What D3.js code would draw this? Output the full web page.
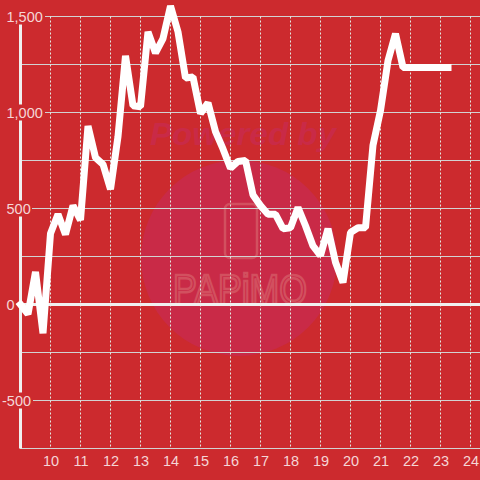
<!DOCTYPE html>
<html>
<head>
<meta charset="utf-8">
<script src="https://cdn.jsdelivr.net/npm/d3@7"></script>
<style>
  html, body { margin: 0; padding: 0; background: #cc2a2e; }
  svg { display: block; }
  text { font-family: "Liberation Sans", Arial, sans-serif; }
</style>
</head>
<body>
<div id="chart"></div>
<script>
// Quarterly readings, first point sits on the y axis
var startTick = 9;
var stepTick = 0.25;
var seriesValues = [0, -50, 170, -150, 370, 470, 365, 515, 440, 930, 765, 730, 600, 875, 1295, 1035, 1030,
  1420, 1310, 1385, 1555, 1420, 1180, 1185, 995, 1050, 900, 810, 710, 745, 750, 570, 515, 470, 470, 395,
  400, 505, 410, 305, 255, 395, 220, 115, 375, 400, 400, 830, 1010, 1270, 1410, 1235, 1235, 1235, 1235,
  1235, 1235, 1235];
var xTicks = [10, 11, 12, 13, 14, 15, 16, 17, 18, 19, 20, 21, 22, 23, 24];
var yGrid = [1500, 1250, 1000, 750, 500, 250, 0, -250, -500, -750];
var yLabels = [1500, 1000, 500, 0, -500];

var width = 480, height = 480;

var x = d3.scaleLinear().domain([9, 24]).range([20.5, 470.5]);
var y = d3.scaleLinear().domain([1500, -750]).range([16.5, 448.5]);

var svg = d3.select('#chart').append('svg')
  .attr('width', width)
  .attr('height', height);

svg.append('rect')
  .attr('width', width)
  .attr('height', height)
  .attr('fill', '#cc2a2e');

// Watermark behind the grid
svg.append('circle')
  .attr('cx', 239)
  .attr('cy', 258)
  .attr('r', 98)
  .attr('fill', '#c92a47');

svg.append('text')
  .attr('x', 150)
  .attr('y', 145)
  .attr('font-size', 31)
  .attr('font-weight', 'bold')
  .attr('font-style', 'italic')
  .attr('textLength', 186)
  .attr('lengthAdjust', 'spacingAndGlyphs')
  .attr('fill', '#c92a47')
  .text('Powered by');

svg.append('rect')
  .attr('x', 225)
  .attr('y', 204)
  .attr('width', 32)
  .attr('height', 54)
  .attr('rx', 5)
  .attr('fill', 'none')
  .attr('stroke', '#d2505f')
  .attr('stroke-width', 2.5);

svg.append('text')
  .attr('x', 173)
  .attr('y', 304)
  .attr('font-size', 43)
  .attr('textLength', 134)
  .attr('lengthAdjust', 'spacingAndGlyphs')
  .attr('fill', 'none')
  .attr('stroke', '#d2505f')
  .attr('stroke-width', 2.5)
  .text('PAPiMO');

// Horizontal grid
svg.append('g').selectAll('line')
  .data(yGrid.filter(function(d) { return d !== 0; }))
  .enter().append('line')
  .attr('x1', 20)
  .attr('x2', width)
  .attr('y1', function(d) { return y(d); })
  .attr('y2', function(d) { return y(d); })
  .attr('stroke', '#d2d2d2')
  .attr('stroke-width', 1);

// Vertical dotted grid
svg.append('g').selectAll('line')
  .data(xTicks)
  .enter().append('line')
  .attr('x1', function(d) { return x(d); })
  .attr('x2', function(d) { return x(d); })
  .attr('y1', y(1500))
  .attr('y2', y(-750) - 2)
  .attr('stroke', '#e2e8e2')
  .attr('stroke-width', 1)
  .attr('stroke-dasharray', '2,2');

// y axis and zero line
svg.append('line')
  .attr('x1', x(9))
  .attr('x2', x(9))
  .attr('y1', y(1500))
  .attr('y2', y(-750))
  .attr('stroke', '#f0f0f0')
  .attr('stroke-width', 3);

svg.append('line')
  .attr('x1', x(9))
  .attr('x2', width)
  .attr('y1', y(0))
  .attr('y2', y(0))
  .attr('stroke', '#f0f0f0')
  .attr('stroke-width', 3);

// y labels sit on a background coloured box which cuts the axis
var fmt = d3.format(',');
var yLabel = svg.append('g').selectAll('g')
  .data(yLabels)
  .enter().append('g');

yLabel.append('rect')
  .attr('x', 0)
  .attr('y', function(d) { return y(d) - 8; })
  .attr('width', function(d) { return d === 0 ? 18 : d === -500 ? 33 : d === 500 ? 32 : 45; })
  .attr('height', 16)
  .attr('fill', '#cc2a2e');

yLabel.append('text')
  .attr('x', function(d) { return d < 0 ? 2 : 6.5; })
  .attr('y', function(d) { return y(d) + 5; })
  .attr('font-size', 14.5)
  .attr('fill', '#f5d6d6')
  .text(function(d) { return fmt(d).replace('\u2212', '-'); });

// x labels
svg.append('g').selectAll('text')
  .data(xTicks)
  .enter().append('text')
  .attr('x', function(d) { return x(d) + 0.5; })
  .attr('y', 466)
  .attr('text-anchor', 'middle')
  .attr('font-size', 14.5)
  .attr('fill', '#f5d6d6')
  .text(function(d) { return d; });

// Series line
var line = d3.line()
  .x(function(d, i) { return x(startTick + i * stepTick); })
  .y(function(d) { return y(d); });

svg.append('path')
  .datum(seriesValues)
  .attr('fill', 'none')
  .attr('stroke', '#ffffff')
  .attr('stroke-width', 7)
  .attr('stroke-linejoin', 'bevel')
  .attr('stroke-linecap', 'square')
  .attr('d', line);
</script>
</body>
</html>
